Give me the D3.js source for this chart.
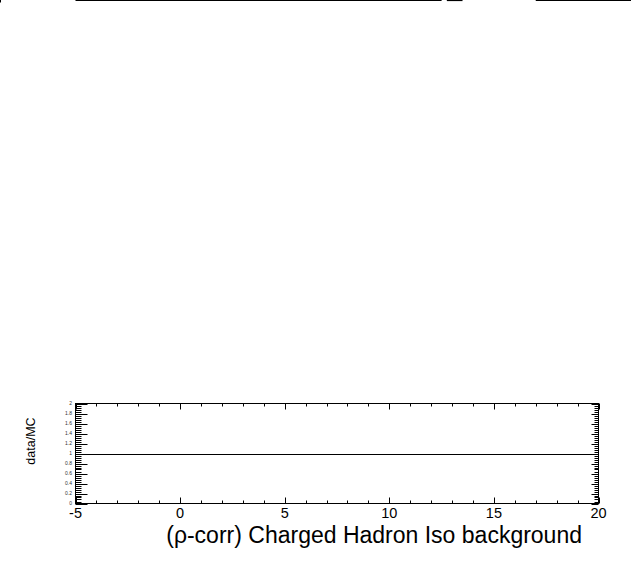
<!DOCTYPE html>
<html><head><meta charset="utf-8">
<script src="https://cdn.jsdelivr.net/npm/d3@7"></script>
<style>html,body{margin:0;padding:0;background:#fff;}svg{display:block;}</style>
</head><body>
<script>
// ---- data ----
const xDomain = [-5, 20];
const yDomain = [0, 2];
const xTickValues = [-5, 0, 5, 10, 15, 20];
const xTickLabels = ["-5", "0", "5", "10", "15", "20"];
const yTickValues = [0, 0.2, 0.4, 0.6, 0.8, 1, 1.2, 1.4, 1.6, 1.8, 2];
const yTickLabels = ["0", "0.2", "0.4", "0.6", "0.8", "1", "1.2", "1.4", "1.6", "1.8", "2"];
const ratioX = [-5, 20];
const ratioY = [1, 1];
// visible bottom edges of the upper pad's histogram (x ranges, at the pad bottom)
const upperSegStart = [-5, 12.75, 17];
const upperSegEnd = [12.5, 13.5, 22.1];
const xTitle = "(ρ-corr) Charged Hadron Iso background";
const yTitle = "data/MC";

// ---- layout ----
const W = 631, H = 572;
const L = 75.5, R = 598.5, T = 403.5, B = 503.5;
const svg = d3.select("body").append("svg").attr("width", W).attr("height", H);
const x = d3.scaleLinear().domain(xDomain).range([L, R]);
const y = d3.scaleLinear().domain(yDomain).range([B, T]);
const font = "Liberation Sans, Arial, Helvetica, sans-serif";

// upper segments
svg.selectAll("line.up").data(upperSegStart).enter().append("line")
  .attr("x1", d => x(d)).attr("x2", (d, i) => x(upperSegEnd[i]))
  .attr("y1", 0.5).attr("y2", 0.5).attr("stroke", "#000").attr("stroke-width", 1.2);
svg.append("line").attr("x1", 0.5).attr("x2", 0.5).attr("y1", 0).attr("y2", 2.5)
  .attr("stroke", "#000").attr("stroke-width", 1);

// frame
svg.append("rect").attr("x", L).attr("y", T).attr("width", R - L).attr("height", B - T)
  .attr("fill", "none").attr("stroke", "#000").attr("stroke-width", 1);

// x ticks (major every 5, minor every 1)
const xMinor = d3.range(xDomain[0], xDomain[1] + 0.001, 1);
xMinor.forEach(v => {
  const major = xTickValues.includes(v);
  const len = major ? 6 : 3;
  const px = Math.round(x(v)) + 0.5;
  svg.append("line").attr("x1", px).attr("x2", px).attr("y1", B).attr("y2", B - len).attr("stroke", "#000");
  svg.append("line").attr("x1", px).attr("x2", px).attr("y1", T).attr("y2", T + len).attr("stroke", "#000");
});
// y ticks (major every 0.2, minor every 0.04)
const yMinor = d3.range(0, 50 + 1, 1).map(i => i * 0.04);
yMinor.forEach((v, i) => {
  const major = i % 5 === 0;
  const py = Math.round(y(v)) + 0.5;
  svg.append("line").attr("x1", L).attr("x2", L + (major ? 12 : 6)).attr("y1", py).attr("y2", py).attr("stroke", "#000");
  svg.append("line").attr("x1", R).attr("x2", R - (major ? 7 : 4)).attr("y1", py).attr("y2", py).attr("stroke", "#000");
});

// ratio line
svg.append("line").attr("x1", x(ratioX[0])).attr("x2", x(ratioX[1]))
  .attr("y1", Math.round(y(ratioY[0])) + 0.5).attr("y2", Math.round(y(ratioY[1])) + 0.5)
  .attr("stroke", "#000").attr("stroke-width", 1);

// x tick labels
svg.selectAll("text.xt").data(xTickValues).enter().append("text")
  .attr("x", d => x(d)).attr("y", 518).attr("text-anchor", "middle")
  .attr("font-family", font).attr("font-size", 14.5).text((d, i) => xTickLabels[i]);
// y tick labels
svg.selectAll("text.yt").data(yTickValues).enter().append("text")
  .attr("x", 72).attr("y", d => y(d) + 1.8).attr("text-anchor", "end")
  .attr("font-family", font).attr("font-size", 5).attr("fill", "#333").text((d, i) => yTickLabels[i]);

// titles
svg.append("text").attr("x", 582).attr("y", 543).attr("text-anchor", "end")
  .attr("font-family", font).attr("font-size", 23).text(xTitle);
svg.append("text").attr("transform", "translate(35,441) rotate(-90)").attr("text-anchor", "middle")
  .attr("font-family", font).attr("font-size", 12.5).text(yTitle);
</script>
</body></html>
